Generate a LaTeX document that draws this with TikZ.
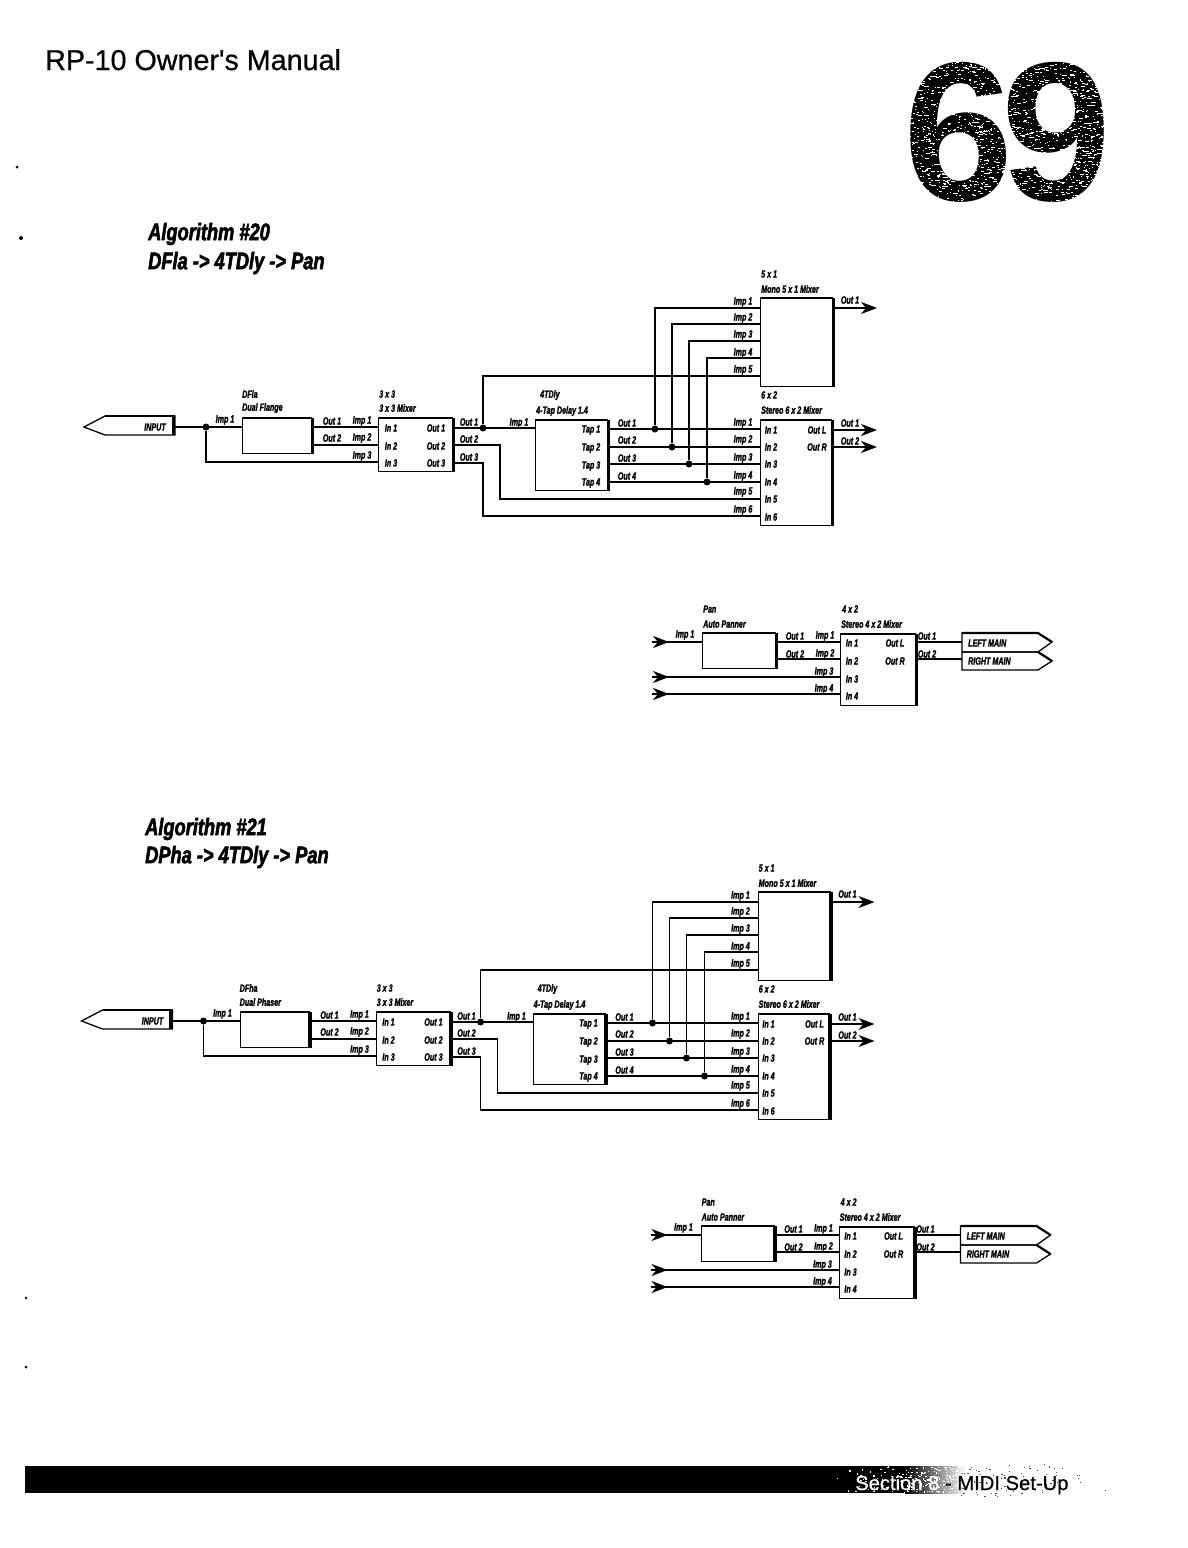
\documentclass[tikz,border=0pt]{standalone}
\usepackage{fontspec}
\usetikzlibrary{arrows.meta}
\setmainfont{Liberation Sans}
\newfontfamily\hdrfont[FakeBold=0.6]{Liberation Sans}
\newfontfamily\labfont[FakeStretch=0.68,FakeBold=1.6]{Liberation Sans}
\newfontfamily\ttlfont[FakeStretch=0.76,FakeBold=2.2]{Liberation Sans}
\newcounter{lb}
\tikzset{
  x=1pt,y=-1pt,
  wire/.style={line width=1.5pt,line cap=butt},
  lab/.style={inner sep=0pt,font=\labfont\bfseries\itshape\fontsize{10.5}{11}\selectfont},
  labl/.style={lab,anchor=west},
  ttl/.style={inner sep=0pt,anchor=west,font=\ttlfont\bfseries\itshape\fontsize{24}{26}\selectfont},
  dot/.style={circle,fill=black,inner sep=0pt,minimum size=7pt},
  blockbox/.style={draw,line width=1.3pt,inner sep=0pt,anchor=north west},
  heavyr/.style={line width=3.5pt},
  heavyt/.style={line width=2.2pt},
  tagline/.style={line width=1.3pt,line join=miter},
  head/.style={wire,-{Stealth[length=16pt,width=12pt,inset=5pt]}},
}
\newcommand\lbl[3]{\stepcounter{lb}\node[lab] (lb\arabic{lb}) at (#2,#3) {#1};}
\newcommand\lbll[3]{\stepcounter{lb}\node[labl] (lb\arabic{lb}) at (#2,#3) {#1};}
\newcommand\blk[5]{%
  \pgfmathsetmacro\bw{#4-#2}\pgfmathsetmacro\bh{#5-#3}%
  \node[blockbox,minimum width=\bw pt,minimum height=\bh pt] (#1) at (#2,#3) {};
  \draw[heavyt] (#1.north west) -- (#1.north east);
  \draw[heavyr] (#1.north east) -- (#1.south east);
}
\newcommand\algomain[2]{%
  % input tag
  \draw[tagline] (105,416) -- (84,427) -- (105,435) -- (175,435) -- (175,416) -- cycle;
  \draw[heavyr] (173.5,416) -- (173.5,435);
  \draw[heavyt] (105,416) -- (175,416);
  \node[lab] (inp) at (155,427) {INPUT};
  \coordinate (inpend) at (175,427);
  % blocks
  \blk{dfl}{242}{418}{311}{453}
  \blk{mixa}{378}{418}{452}{471}
  \blk{tap}{535}{420}{607}{490}
  \blk{mfive}{760}{298}{832}{386}
  \blk{msix}{760}{420}{831}{525}
  % junctions
  \node[dot] (ja) at (206,427) {};
  \node[dot] (jb) at (483,428) {};
  \node[dot] (t1) at (655,429) {};
  \node[dot] (t2) at (672,447) {};
  \node[dot] (t3) at (689,464) {};
  \node[dot] (t4) at (707,482) {};
  % ports
  \coordinate (dfli) at (242,427);
  \coordinate (dflo1) at (311,427);
  \coordinate (dflo2) at (311,445);
  \coordinate (ai1) at (378,427);
  \coordinate (ai2) at (378,445);
  \coordinate (ai3) at (378,462);
  \coordinate (ao1) at (452,428);
  \coordinate (ao2) at (452,445);
  \coordinate (ao3) at (452,463);
  \coordinate (tapi) at (535,428);
  \coordinate (to1) at (607,429);
  \coordinate (to2) at (607,447);
  \coordinate (to3) at (607,464);
  \coordinate (to4) at (607,482);
  \coordinate (f1) at (760,308);
  \coordinate (f2) at (760,324);
  \coordinate (f3) at (760,341);
  \coordinate (f4) at (760,358);
  \coordinate (f5) at (760,376);
  \coordinate (s1) at (760,429);
  \coordinate (s2) at (760,447);
  \coordinate (s3) at (760,464);
  \coordinate (s4) at (760,482);
  \coordinate (s5) at (760,499);
  \coordinate (s6) at (760,516);
  \coordinate (fo) at (832,308);
  \coordinate (fe) at (877,308);
  \coordinate (so1) at (831,430);
  \coordinate (se1) at (877,430);
  \coordinate (so2) at (831,447);
  \coordinate (se2) at (877,447);
  \coordinate (bend2) at (500,445);
  \coordinate (bend3) at (483,463);
  % connectors
  \draw[wire] (inpend) -- (dfli);
  \draw[wire] (ja) |- (ai3);
  \draw[wire] (dflo1) -- (ai1);
  \draw[wire] (dflo2) -- (ai2);
  \draw[wire] (ao1) -- (tapi);
  \draw[wire] (jb) |- (f5);
  \draw[wire] (ao2) -- (bend2) |- (s5);
  \draw[wire] (ao3) -- (bend3) |- (s6);
  \foreach \i in {1,...,4} {
    \draw[wire] (to\i) -- (s\i);
    \draw[wire] (t\i) |- (f\i);
  }
  \draw[head] (fo) -- (fe);
  \draw[head] (so1) -- (se1);
  \draw[head] (so2) -- (se2);
  % texts
  \lbll{DF#1}{242}{394}
  \lbll{Dual #2}{242}{408}
  \lbl{Imp 1}{225}{420}
  \lbl{Out 1}{332}{421}\lbl{Imp 1}{362}{421}
  \lbl{Out 2}{332}{438}\lbl{Imp 2}{362}{438}
  \lbl{Imp 3}{362}{456}
  \lbll{3 x 3}{379}{394}
  \lbll{3 x 3 Mixer}{379}{408}
  \lbl{In 1}{391}{428}\lbl{In 2}{391}{446}\lbl{In 3}{391}{463}
  \lbl{Out 1}{436}{428}\lbl{Out 2}{436}{446}\lbl{Out 3}{436}{463}
  \lbl{Out 1}{469}{422}\lbl{Out 2}{469}{439}\lbl{Out 3}{469}{457}
  \lbl{Imp 1}{519}{423}
  \lbll{4TDly}{540}{395}
  \lbll{4-Tap Delay 1.4}{536}{411}
  \lbl{Tap 1}{591}{430}\lbl{Tap 2}{591}{448}\lbl{Tap 3}{591}{466}\lbl{Tap 4}{591}{483}
  \lbl{Out 1}{627}{423}\lbl{Out 2}{627}{440}\lbl{Out 3}{627}{458}\lbl{Out 4}{627}{476}
  \lbll{5 x 1}{761}{274}
  \lbll{Mono 5 x 1 Mixer}{761}{289}
  \lbl{Imp 1}{743}{302}\lbl{Imp 2}{743}{318}\lbl{Imp 3}{743}{335}\lbl{Imp 4}{743}{353}\lbl{Imp 5}{743}{370}
  \lbl{Out 1}{850}{300}
  \lbll{6 x 2}{761}{395}
  \lbll{Stereo 6 x 2 Mixer}{761}{410}
  \lbl{Imp 1}{743}{423}\lbl{Imp 2}{743}{440}\lbl{Imp 3}{743}{458}\lbl{Imp 4}{743}{476}\lbl{Imp 5}{743}{492}\lbl{Imp 6}{743}{510}
  \lbl{In 1}{771}{430}\lbl{In 2}{771}{447}\lbl{In 3}{771}{464}\lbl{In 4}{771}{482}\lbl{In 5}{771}{499}\lbl{In 6}{771}{517}
  \lbl{Out L}{817}{430}\lbl{Out R}{817}{447}
  \lbl{Out 1}{850}{423}\lbl{Out 2}{850}{441}
}
\newcommand\algosmall{%
  \blk{pan}{702}{633}{775}{668}
  \blk{mixb}{840}{634}{915}{705}
  \coordinate (ia) at (652,642);
  \coordinate (iah) at (669,642);
  \coordinate (ib) at (652,677);
  \coordinate (ibh) at (669,677);
  \coordinate (ic) at (652,694);
  \coordinate (ich) at (669,694);
  \coordinate (pi) at (702,642);
  \coordinate (po1) at (775,642);
  \coordinate (po2) at (775,659);
  \coordinate (b1) at (840,642);
  \coordinate (b2) at (840,659);
  \coordinate (b3) at (840,677);
  \coordinate (b4) at (840,694);
  \coordinate (bo1) at (915,642);
  \coordinate (bo2) at (915,659);
  \coordinate (tl) at (962,642);
  \coordinate (tr) at (962,659);
  \draw[wire] (ia) -- (pi);
  \draw[wire] (ib) -- (b3);
  \draw[wire] (ic) -- (b4);
  \draw[head] (ia) -- (iah);
  \draw[head] (ib) -- (ibh);
  \draw[head] (ic) -- (ich);
  \draw[wire] (po1) -- (b1);
  \draw[wire] (po2) -- (b2);
  \draw[wire] (bo1) -- (tl);
  \draw[wire] (bo2) -- (tr);
  \draw[tagline] (962,633) -- (1038,633) -- (1052,642) -- (1038,652) -- (962,652) -- cycle;
  \draw[tagline] (962,652) -- (1038,652) -- (1052,661) -- (1038,670) -- (962,670) -- cycle;
  \draw[heavyt] (962,633) -- (1038,633) -- (1052,642);
  \draw[heavyt] (1038,652) -- (1052,661);
  \lbll{Pan}{703}{609}
  \lbll{Auto Panner}{703}{624}
  \lbl{Imp 1}{685}{635}
  \lbl{Out 1}{795}{636}\lbl{Imp 1}{825}{636}
  \lbl{Out 2}{795}{654}\lbl{Imp 2}{825}{654}
  \lbl{Imp 3}{824}{672}\lbl{Imp 4}{824}{689}
  \lbll{4 x 2}{842}{609}
  \lbll{Stereo 4 x 2 Mixer}{841}{624}
  \lbl{In 1}{852}{643}\lbl{In 2}{852}{661}\lbl{In 3}{852}{679}\lbl{In 4}{852}{696}
  \lbl{Out L}{895}{643}\lbl{Out R}{895}{661}
  \lbl{Out 1}{927}{636}\lbl{Out 2}{927}{654}
  \lbll{LEFT MAIN}{968}{643}
  \lbll{RIGHT MAIN}{968}{661}
}
\begin{document}
\begin{tikzpicture}
\useasboundingbox (0,0) rectangle (1188,1548);
\fill[white] (0,0) rectangle (1188,1548);
% header
\node[inner sep=0pt,anchor=base west,font=\hdrfont\fontsize{28.7}{30}\selectfont] (hdr) at (45,70) {RP-10 Owner's Manual};
% page number with a scanned grain
\node[inner sep=0pt,anchor=base west,font=\bfseries\fontsize{198}{200}\selectfont] (pgno) at (903,200) {6\kern-12pt 9};
\pgfmathsetseed{4711}
\foreach \i in {1,...,2100} {
  \pgfmathsetmacro\xx{908+rnd*204}
  \pgfmathsetmacro\yy{56+rnd*150}
  \pgfmathsetmacro\ww{0.6+rnd*rnd*5}
  \fill[white] (\xx,\yy) rectangle +(\ww,0.9);
}
% titles
\node[ttl] (ta) at (148,234) {Algorithm \#20};
\node[ttl] (tb) at (148,263) {DFla -> 4TDly -> Pan};
\node[ttl] (tc) at (145,829) {Algorithm \#21};
\node[ttl] (td) at (145,857) {DPha -> 4TDly -> Pan};
% diagrams
\begin{scope}[name prefix=A-]
  \algomain{la}{Flange}
\end{scope}
\begin{scope}[name prefix=B-]
  \algosmall
\end{scope}
\begin{scope}[shift={(-2.5,594)},name prefix=C-]
  \algomain{ha}{Phaser}
\end{scope}
\begin{scope}[shift={(-1.5,593)},name prefix=D-]
  \algosmall
\end{scope}
% footer bar
\fill[black] (25,1466) rectangle (905,1493);
\shade[left color=black,right color=white] (905,1466) rectangle (966,1493);
\foreach \i in {1,...,420} {
  \pgfmathsetmacro\xx{835+rnd*130}
  \pgfmathsetmacro\yy{1466+rnd*26}
  \pgfmathsetmacro\pp{(\xx-835)/130}
  \pgfmathparse{rnd<\pp?1:0}
  \ifnum\pgfmathresult=1\relax
    \fill[white] (\xx,\yy) rectangle +(1.5,1.2);
  \fi
}
\foreach \i in {1,...,130} {
  \pgfmathsetmacro\xx{960+rnd*155}
  \pgfmathsetmacro\yy{1464+rnd*32}
  \pgfmathsetmacro\pp{1-(\xx-960)/155}
  \pgfmathparse{rnd<\pp?1:0}
  \ifnum\pgfmathresult=1\relax
    \fill[black!70] (\xx,\yy) rectangle +(1.2,1.2);
  \fi
}
\node[inner sep=0pt,anchor=base west,font=\hdrfont\fontsize{20.2}{22}\selectfont] (ftr) at (855,1490) {\textcolor{white}{Section 8 }- MIDI Set-Up};
% scan marks
\fill (17,167) circle (1.5);
\fill (21,238) circle (2);
\fill (26,1298) circle (1.3);
\fill (26,1367) circle (1.5);
\end{tikzpicture}
\end{document}
